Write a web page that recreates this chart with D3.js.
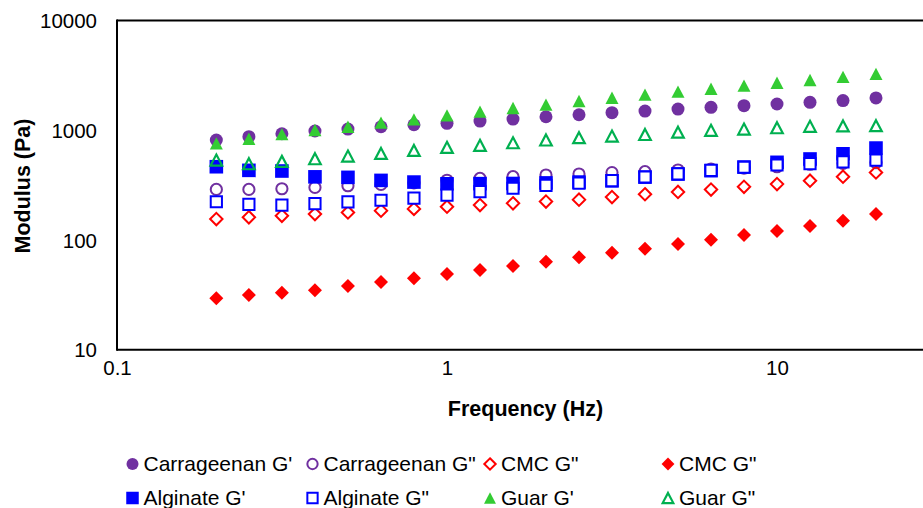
<!DOCTYPE html>
<html><head><meta charset="utf-8">
<script src="https://cdn.jsdelivr.net/npm/d3@7"></script>
<style>body{margin:0;background:#fff} svg{display:block;font-family:"Liberation Sans",Arial,sans-serif}</style>
</head><body><svg id="c" width="923" height="508"></svg>
<script>
// ---------- data ----------
const frequency = [0.2, 0.251, 0.316, 0.398, 0.501, 0.631, 0.794, 1, 1.259, 1.585, 1.995, 2.512, 3.162, 3.981, 5.012, 6.31, 7.943, 10, 12.59, 15.85, 19.95];
const carrageenanG1 = [815, 873, 929, 984, 1025, 1076, 1122, 1156, 1213, 1265, 1327, 1384, 1445, 1496, 1560, 1618, 1673, 1734, 1796, 1862, 1970];
const carrageenanG2 = [289, 289, 293, 301, 312, 321, 332, 350, 364, 377, 391, 399, 411, 419, 434, 443, 452, 465, 490, 499, 507];
const cmcG2 = [155, 161, 166, 172, 178, 185, 192, 201, 208, 216, 224, 233, 246, 261, 274, 288, 305, 323, 347, 377, 412];
const cmcG1 = [29.4, 31.5, 33, 34.9, 38, 41.3, 44.7, 48.9, 53.2, 57.8, 63.4, 69.4, 76.4, 83.2, 91.8, 100.5, 111, 121, 134, 150, 172];
const alginateG1 = [465, 431, 425, 376, 372, 349, 337, 325, 326, 327, 331, 337, 346, 374, 399, 428, 462, 510, 547, 610, 688];
const alginateG2 = [223, 211, 208, 214, 222, 230, 241, 256, 276, 296, 315, 330, 347, 375, 400, 430, 460, 482, 497, 515, 535];
const guarG1 = [760, 837, 923, 1004, 1076, 1172, 1257, 1368, 1476, 1593, 1709, 1846, 1977, 2108, 2245, 2390, 2546, 2710, 2870, 3065, 3265];
const guarG2 = [535, 495, 520, 550, 582, 615, 655, 698, 728, 769, 815, 855, 885, 915, 960, 998, 1025, 1054, 1085, 1095, 1100];
const seriesNames = ["Carrageenan G'", 'Carrageenan G"', 'CMC G"', 'CMC G"', "Alginate G'", 'Alginate G"', "Guar G'", 'Guar G"'];
const seriesValues = [carrageenanG1, carrageenanG2, cmcG2, cmcG1, alginateG1, alginateG2, guarG1, guarG2];
const yTickValues = [10, 100, 1000, 10000];
const xTickValues = [0.1, 1, 10];
const xTitle = "Frequency (Hz)";
const yTitle = "Modulus (Pa)";

(function () {
const symCircle = {draw(c, s){const r=s; c.moveTo(r,0); c.arc(0,0,r,0,2*Math.PI);}};
const symSquare = {draw(c, s){c.rect(-s,-s,2*s,2*s);}};
const symDiamond = {draw(c, s){c.moveTo(0,-s); c.lineTo(s,0); c.lineTo(0,s); c.lineTo(-s,0); c.closePath();}};
const symTriangle = {draw(c, s){const h=s*0.95; c.moveTo(0,-h); c.lineTo(s,h); c.lineTo(-s,h); c.closePath();}};

const styles = [
  {sym: symCircle, r: 6.5, fill: "#7030A0", stroke: "none", sw: 0},
  {sym: symCircle, r: 5.6, fill: "none", stroke: "#7030A0", sw: 2},
  {sym: symDiamond, r: 6.2, fill: "none", stroke: "#FF0000", sw: 2},
  {sym: symDiamond, r: 7, fill: "#FF0000", stroke: "none", sw: 0},
  {sym: symSquare, r: 6.8, fill: "#0000FF", stroke: "none", sw: 0},
  {sym: symSquare, r: 5.6, fill: "#FFFFFF", stroke: "#0000FF", sw: 2},
  {sym: symTriangle, r: 6.5, fill: "#33CC33", stroke: "none", sw: 0},
  {sym: symTriangle, r: 5.8, fill: "none", stroke: "#00B050", sw: 2.2}
];

const svg = d3.select("#c");
const pLeft = 117, pTop = 20.5, pBottom = 349.7, decade = 330;
const x = d3.scaleLog().domain([0.1, 100]).range([pLeft, pLeft + 3 * decade]);
const y = d3.scaleLog().domain([10, 10000]).range([pBottom, pTop]);

const yAxis = svg.append("g").attr("transform", `translate(${pLeft - 20},0)`)
  .call(d3.axisLeft(y).tickValues(yTickValues).tickSize(0).tickPadding(0).tickFormat(d3.format("d")));
yAxis.select(".domain").remove();
yAxis.selectAll("text").attr("font-size", 20.5).attr("fill", "#000").attr("font-family", "Liberation Sans, Arial, sans-serif").attr("dy", "0.35em");

const xAxis = svg.append("g").attr("transform", `translate(0,${pBottom + 11})`)
  .call(d3.axisBottom(x).tickValues(xTickValues).tickSize(0).tickPadding(0).tickFormat(d => d < 1 ? d3.format(".1f")(d) : d3.format("d")(d)));
xAxis.select(".domain").remove();
xAxis.selectAll("text").attr("font-size", 20.5).attr("fill", "#000").attr("font-family", "Liberation Sans, Arial, sans-serif").attr("dy", "0.71em");

svg.append("line").attr("x1", pLeft).attr("x2", 923).attr("y1", y(10000)).attr("y2", y(10000)).attr("stroke", "#000").attr("stroke-width", 2);
svg.append("line").attr("x1", pLeft).attr("x2", 923).attr("y1", y(10)).attr("y2", y(10)).attr("stroke", "#000").attr("stroke-width", 2);
svg.append("line").attr("x1", pLeft).attr("x2", pLeft).attr("y1", y(10000) - 1).attr("y2", y(10) + 1).attr("stroke", "#000").attr("stroke-width", 2);

svg.append("text").attr("x", 525.5).attr("y", 416).attr("text-anchor", "middle").attr("font-size", 21.5).attr("font-weight", "bold").text(xTitle);
svg.append("text").attr("transform", "translate(30,186) rotate(-90)").attr("text-anchor", "middle").attr("font-size", 21.5).attr("font-weight", "bold").text(yTitle);

seriesValues.forEach((vals, i) => {
  const st = styles[i];
  svg.append("g").selectAll("path").data(vals).join("path")
    .attr("transform", (d, j) => `translate(${x(frequency[j])},${y(d)})`)
    .attr("d", d3.symbol().type(st.sym).size(st.r))
    .attr("fill", st.fill).attr("stroke", st.stroke).attr("stroke-width", st.sw);
});

const legX = [132.5, 312.5, 490, 668];
const legY = [464, 498];
seriesNames.forEach((name, i) => {
  const st = styles[i];
  const lx = legX[i % 4], ly = legY[Math.floor(i / 4)];
  svg.append("path").attr("transform", `translate(${lx},${ly})`)
    .attr("d", d3.symbol().type(st.sym).size(st.r * 0.92))
    .attr("fill", st.fill).attr("stroke", st.stroke).attr("stroke-width", st.sw);
  svg.append("text").attr("x", lx + 11).attr("y", ly).attr("dy", "0.35em").attr("font-size", 21).text(name);
});
})();
</script></body></html>
